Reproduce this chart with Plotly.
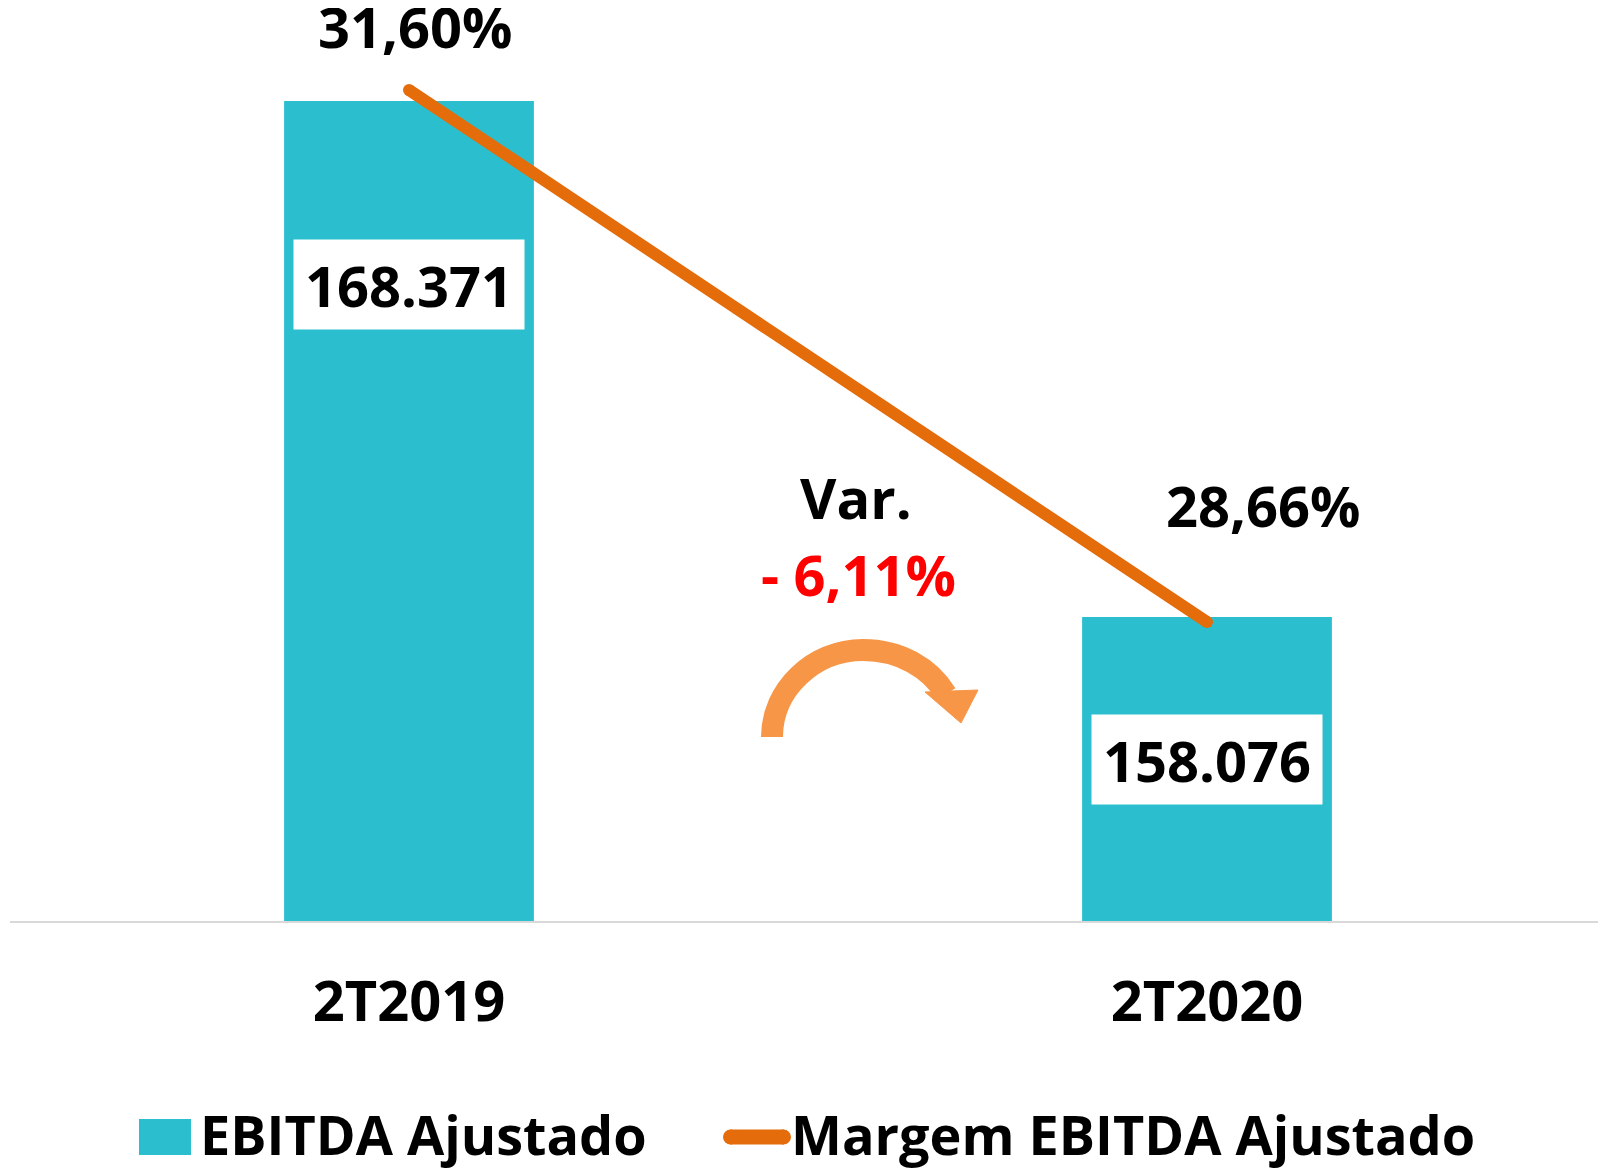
import plotly.graph_objects as go

# dados
periodos = ["2T2019", "2T2020"]
ebitda = [168371, 158076]
ebitda_txt = ["168.371", "158.076"]
margem = [31.60, 28.66]
margem_txt = ["31,60%", "28,66%"]
var_titulo = "Var."
var_txt = "- 6,11%"

COR_BARRA = "#2ABECE"
COR_LINHA = "#E46C0A"
COR_SETA = "#F79646"
FONTE = "Open Sans"

# a página tem 8px de margem no body: a figura é deslocada por isso
OFF = 8
W, H = 1606 - OFF, 1170 - OFF
L, R, T, B = 10 - OFF, 0, 20 - OFF, 249
PW, PH = W - L - R, H - T - B


def px(x):
    """pixel horizontal da tela -> coordenada paper"""
    return (x - OFF - L) / PW


def py(y):
    """pixel vertical da tela -> coordenada paper"""
    return (H - B - (y - OFF)) / PH


fig = go.Figure()
fig.add_trace(go.Bar(x=periodos, y=ebitda, width=0.313, marker_color=COR_BARRA,
                     marker_line_width=0, name="EBITDA Ajustado", hoverinfo="skip"))
fig.add_trace(go.Scatter(x=periodos, y=margem, yaxis="y2", mode="lines+markers",
                         line=dict(color=COR_LINHA, width=12),
                         marker=dict(color=COR_LINHA, size=12),
                         name="Margem EBITDA Ajustado", hoverinfo="skip"))


def texto(txt, x, y, cor="black", tam=56, **kw):
    d = dict(x=x, y=y, xref="paper", yref="paper", text=f"<b>{txt}</b>",
             showarrow=False, xanchor="center", yanchor="middle",
             font=dict(size=tam, color=cor, family=FONTE))
    d.update(kw)
    return d


anots = []
# valores do EBITDA em caixas brancas
for per, txt, yc in zip(periodos, ebitda_txt, [284.5, 760]):
    anots.append(texto(txt, per, py(yc), xref="x", bgcolor="white",
                       width=228, height=87))
# margens acima da linha
for per, val, txt, xs, ys in zip(periodos, margem, margem_txt, [6, 56], [64, 117]):
    anots.append(texto(txt, per, val, xref="x", yref="y2", xshift=xs, yshift=ys))
anots.append(texto(var_titulo, px(856), py(497)))
anots.append(texto(var_txt, px(858), py(574), cor="#FF0000"))
# legenda
anots.append(texto("EBITDA Ajustado", px(198), py(1134), tam=54, xanchor="left"))
anots.append(texto("Margem EBITDA Ajustado", px(789), py(1134), tam=54, xanchor="left"))


def pt(x, y):
    return f"{px(x):.5f},{py(y):.5f}"


seta = (f"M {pt(772, 737)} C {pt(772, 690)} {pt(813, 650)} {pt(863, 650)} "
        f"C {pt(900, 650)} {pt(930, 668)} {pt(946, 694)}")
ponta = f"M {pt(925, 692)} L {pt(978, 690)} L {pt(961, 723)} Z"

shapes = [
    dict(type="path", xref="paper", yref="paper", path=seta,
         line=dict(color=COR_SETA, width=22)),
    dict(type="path", xref="paper", yref="paper", path=ponta,
         fillcolor=COR_SETA, line=dict(color=COR_SETA, width=1)),
    # simbolos da legenda
    dict(type="rect", xref="paper", yref="paper", x0=px(139), x1=px(191),
         y0=py(1155), y1=py(1119), fillcolor=COR_BARRA, line_width=0),
    dict(type="line", xref="paper", yref="paper", x0=px(730), x1=px(784),
         y0=py(1137), y1=py(1137), line=dict(color=COR_LINHA, width=15)),
    dict(type="circle", xref="paper", yref="paper", x0=px(723), x1=px(738),
         y0=py(1144.5), y1=py(1129.5), fillcolor=COR_LINHA, line_width=0),
    dict(type="circle", xref="paper", yref="paper", x0=px(776), x1=px(791),
         y0=py(1144.5), y1=py(1129.5), fillcolor=COR_LINHA, line_width=0),
]

fig.update_layout(
    width=W, height=H, showlegend=False,
    margin=dict(l=L, r=R, t=T, b=B),
    paper_bgcolor="white", plot_bgcolor="white",
    font=dict(family=FONTE, size=56, color="black"),
    annotations=anots, shapes=shapes,
    xaxis=dict(showline=True, linecolor="#D9D9D9", linewidth=2, showgrid=False,
               ticks="outside", ticklen=31, tickcolor="rgba(0,0,0,0)",
               tickfont=dict(size=56, color="black", family=FONTE),
               range=[-0.5, 1.5]),
    yaxis=dict(visible=False, range=[152011, 169987]),
    yaxis2=dict(visible=False, overlaying="y", range=[27.0076, 31.987]),
)
fig.update_xaxes(tickvals=periodos, ticktext=[f"<b>{p}</b>" for p in periodos])

fig.write_html("out.html")
